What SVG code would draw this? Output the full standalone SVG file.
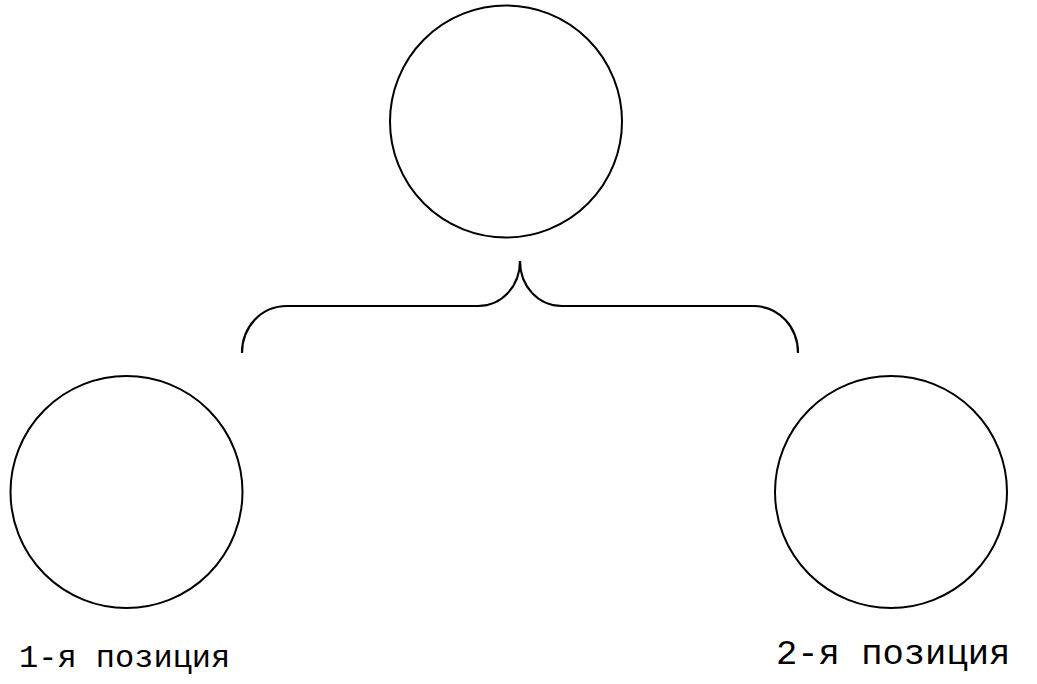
<svg xmlns="http://www.w3.org/2000/svg" width="1037" height="684" viewBox="0 0 1037 684">
<style>
.node{fill:none;stroke:#000;stroke-width:2}
.conn{fill:none;stroke:#000;stroke-width:2.2}
.lbl{font-family:"Courier New","Liberation Mono",monospace;font-size:32px;fill:#000}
</style>
<rect width="1037" height="684" fill="#fff"/>
<g id="top"><circle class="node" cx="506" cy="121.5" r="116"/></g>
<g id="left"><circle class="node" cx="126.5" cy="492" r="116"/></g>
<g id="right"><circle class="node" cx="891" cy="492" r="116"/></g>
<g id="connectors">
<path class="conn" d="M242,353 C242,327 261,306 287,306 L478,306 C502,306 520,286 520,261 C520,286 538,306 562,306 L753,306 C779,306 798,327 798,353"/>
</g>
<g id="label1"><text class="lbl" x="19" y="667">1-я позиция</text></g>
<g id="label2"><text class="lbl" x="776" y="664" style="font-size:35.5px">2-я позиция</text></g>
</svg>
